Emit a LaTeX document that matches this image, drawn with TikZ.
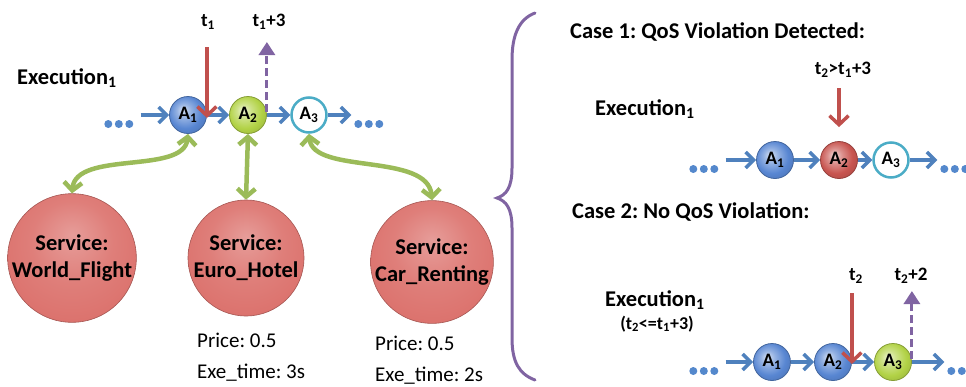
\documentclass[tikz,border=0pt]{standalone}
\usepackage{fontspec}
\setmainfont{Carlito}
\usetikzlibrary{arrows.meta,calc}
\frenchspacing

\definecolor{flowblue}{HTML}{4F81BD}
\definecolor{dotblue}{RGB}{84,136,204}
\definecolor{alertred}{HTML}{C0504D}
\definecolor{deadline}{HTML}{8064A2}
\definecolor{linkgreen}{HTML}{9BBB59}
\definecolor{openring}{HTML}{4BACC6}
\definecolor{actblue}{RGB}{88,134,210}
\definecolor{actgreen}{RGB}{178,210,70}
\definecolor{actred}{RGB}{200,85,80}
\definecolor{svcred}{RGB}{220,115,110}

% soft sphere shading, tinted by the colour "ballc"
\colorlet{ballc}{actblue}
\pgfdeclareradialshading[ballc]{softball}{\pgfpoint{-7bp}{7bp}}{%
  color(0bp)=(ballc!25!white); color(10bp)=(ballc!65!white);
  color(22bp)=(ballc); color(32bp)=(ballc!88!black); color(50bp)=(ballc!75!black)}
% flatter shading for the large service discs
\pgfdeclareradialshading[ballc]{flatball}{\pgfpoint{0bp}{9bp}}{%
  color(0bp)=(ballc!70!white); color(16bp)=(ballc!92!white);
  color(28bp)=(ballc); color(34bp)=(ballc!88!black); color(50bp)=(ballc!80!black)}

\tikzset{
  ballcol/.code={\colorlet{ballc}{#1}},
  act/.style={circle, minimum size=37pt, inner sep=0pt,
    font=\bfseries\fontsize{19}{19}\selectfont},
  actb/.style={act, ballcol=actblue, shading=softball, draw=actblue!75!black, line width=0.8pt},
  actg/.style={act, ballcol=actgreen, shading=softball, draw=actgreen!75!black, line width=0.8pt},
  actr/.style={act, ballcol=actred, shading=softball, draw=actred!75!black, line width=0.8pt},
  actw/.style={act, fill=white, draw=openring, line width=2.5pt, minimum size=35pt},
  service/.style={circle, minimum size=116pt, inner sep=0pt, ballcol=svcred,
    shading=flatball, draw=svcred!75!black, line width=0.6pt, align=center,
    font=\bfseries\fontsize{22.5}{27}\selectfont},
  label/.style={inner sep=0pt, font=\bfseries\fontsize{22.5}{24}\selectfont},
  tlabel/.style={inner sep=0pt, font=\bfseries\fontsize{19}{21}\selectfont},
  qos/.style={inner sep=0pt, align=left, font=\fontsize{21}{31}\selectfont},
  dotsbox/.style={minimum width=29pt, minimum height=20pt, inner sep=0pt},
  flow/.style={draw=flowblue, line width=3.5pt,
    -{Straight Barb[length=8pt,width=16pt]}},
  tdown/.style={draw=alertred, line width=3.5pt,
    -{Straight Barb[length=9pt,width=19pt]}},
  tup/.style={draw=deadline, line width=3pt, dash pattern=on 8pt off 4pt,
    -{Triangle[length=13pt,width=16pt]}},
  link/.style={draw=linkgreen, line width=4.5pt,
    {Straight Barb[length=8pt,width=18pt]}-{Straight Barb[length=8pt,width=18pt]}},
}

% a row of three dots, sitting slightly below the flow line
\newcommand\dotrow[2]{%
  \node[dotsbox] (#1) at (#2) {};
  \foreach \k in {0,1,2}{\fill[dotblue] ($(#1.west)+(4+10.5*\k,9)$) circle[radius=4];}}

\begin{document}
\begin{tikzpicture}[x=1pt,y=-1pt]
\useasboundingbox (0,0) rectangle (966,386);

% ---------- execution with bound services ----------
\node[label, anchor=west] (ex0) at (17,78) {Execution\textsubscript{1}};
\dotrow{d0}{119,115}
\node[actb] (a1) at (188,115) {A\textsubscript{1}};
\node[actg] (a2) at (248,115) {A\textsubscript{2}};
\node[actw] (a3) at (309,115) {A\textsubscript{3}};
\dotrow{d1}{369,115}
\draw[flow, shorten <=7pt] (d0) -- (a1);
\draw[flow] (a1) -- (a2);
\draw[flow] (a2) -- (a3);
\draw[flow, shorten >=3pt] (a3) -- (d1);

\node[tlabel] (t1) at (208,22) {t\textsubscript{1}};
\node[tlabel] (t1p) at (269,22) {t\textsubscript{1}+3};
\coordinate (t1top) at (a1.east |- 0,47);
\draw[tdown] (t1top) -- ($(a1.east)+(0,3)$);
\coordinate (t1pend) at (a2.east |- 0,42);
\draw[tup] ($(a2.east)+(0,-3)$) -- (t1pend);

\node[service] (s1) at (72,258) {Service:\\World\_Flight};
\node[service] (s2) at (246,258) {Service:\\Euro\_Hotel};
\node[service] (s3) at (432,262) {Service:\\Car\_Renting};
\draw[link] (a1.south) .. controls (184,175) and (76,150) .. (s1.north);
\draw[link] (a2.south) -- (s2.north);
\draw[link] (a3.south) .. controls (313,175) and (428,152) .. (s3.north);

\node[qos, anchor=north west] (q2) at (197,333) {Price: 0.5\\Exe\_time: 3s};
\node[qos, anchor=north west] (q3) at (375,336) {Price: 0.5\\Exe\_time: 2s};

% ---------- brace ----------
\draw[deadline, line width=3pt, line cap=round]
  (535,13) .. controls (519,19) and (512,35) .. (512,60) -- (512,168)
  .. controls (512,188) and (506,195) .. (497,198)
  .. controls (506,201) and (512,208) .. (512,228) -- (512,338)
  .. controls (512,362) and (519,374) .. (535,380);

% ---------- case 1 ----------
\node[label, anchor=west] (c1) at (570,32) {Case 1: QoS Violation Detected:};
\node[label, anchor=west] (ex1) at (595,109) {Execution\textsubscript{1}};
\node[tlabel] (t2a) at (843,70) {t\textsubscript{2}>t\textsubscript{1}+3};
\dotrow{d2}{704,160}
\node[actb] (b1) at (775,160) {A\textsubscript{1}};
\node[actr] (b2) at (839,160) {A\textsubscript{2}};
\node[actw] (b3) at (891,160) {A\textsubscript{3}};
\dotrow{d3}{955,160}
\draw[flow, shorten <=7pt] (d2) -- (b1);
\draw[flow] (b1) -- (b2);
\draw[flow] (b2) -- (b3);
\draw[flow, shorten >=3pt] (b3) -- (d3);
\coordinate (t2atop) at (b2.north |- 0,88);
\draw[tdown] (t2atop) -- ($(b2.north)+(0,-14)$);

% ---------- case 2 ----------
\node[label, anchor=west] (c2) at (572,212) {Case 2: No QoS Violation:};
\node[label, anchor=west] (ex2) at (605,300) {Execution\textsubscript{1}};
\node[tlabel, font=\bfseries\fontsize{18}{20}\selectfont] (cond) at (657,324) {(t\textsubscript{2}<=t\textsubscript{1}+3)};
\node[tlabel] (t2) at (856,276) {t\textsubscript{2}};
\node[tlabel] (t2p) at (911,276) {t\textsubscript{2}+2};
\dotrow{d4}{704,362}
\node[actb] (e1) at (772,362) {A\textsubscript{1}};
\node[actb] (e2) at (833,362) {A\textsubscript{2}};
\node[actg] (e3) at (893,362) {A\textsubscript{3}};
\dotrow{d5}{962,362}
\draw[flow, shorten <=7pt] (d4) -- (e1);
\draw[flow] (e1) -- (e2);
\draw[flow] (e2) -- (e3);
\draw[flow, shorten >=3pt] (e3) -- (d5);
\coordinate (t2top) at (e2.east |- 0,293);
\draw[tdown] (t2top) -- ($(e2.east)+(0,2)$);
\coordinate (t2pend) at (e3.east |- 0,291);
\draw[tup] ($(e3.east)+(0,-3)$) -- (t2pend);
\end{tikzpicture}
\end{document}
